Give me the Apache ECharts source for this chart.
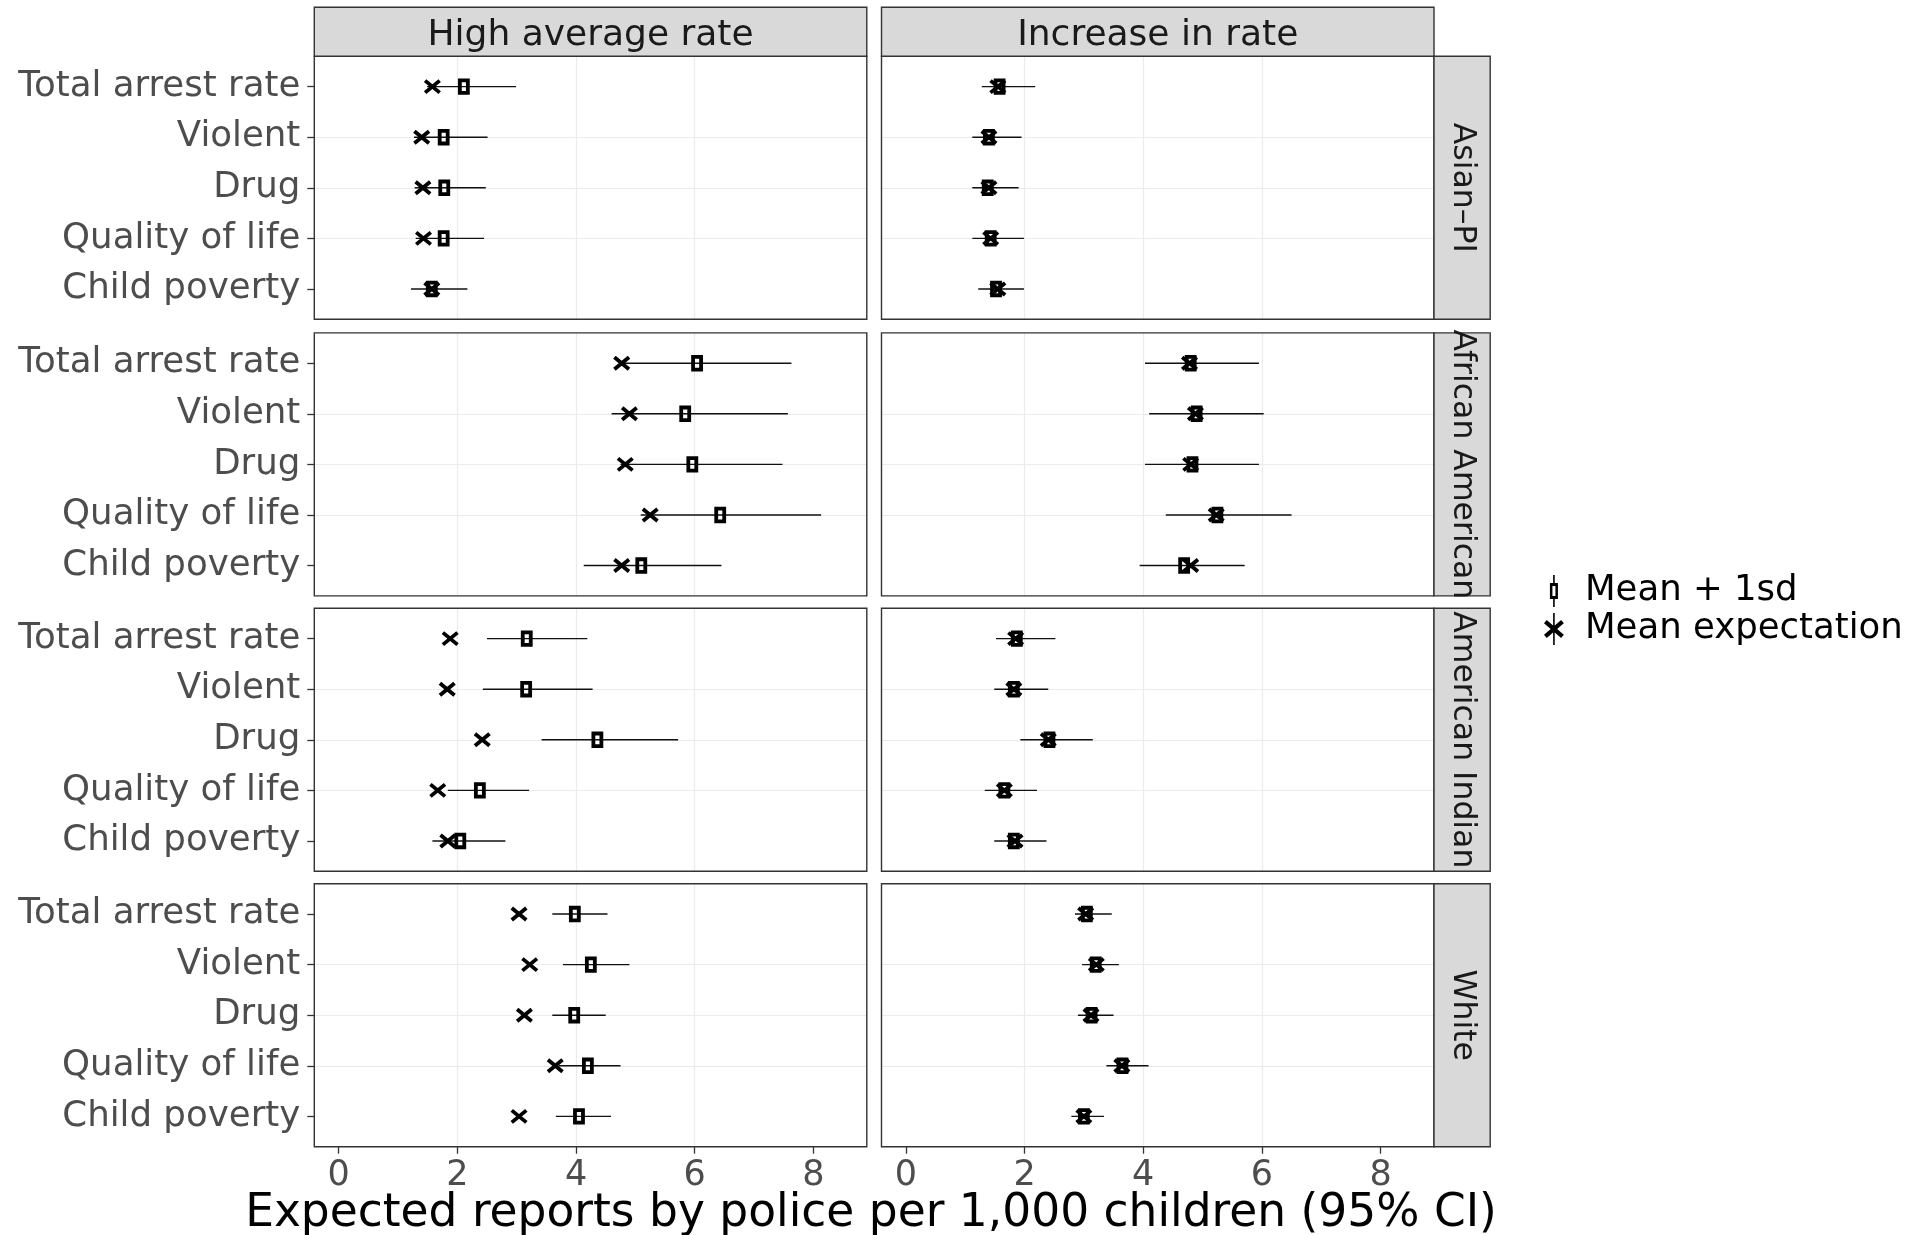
<!DOCTYPE html>
<html>
<head>
<meta charset="utf-8">
<script src="https://cdn.jsdelivr.net/npm/echarts@6/dist/echarts.min.js"></script>
<style>
html,body{margin:0;padding:0;background:#fff;}
#chart{width:1919px;height:1235px;}
</style>
</head>
<body>
<div id="chart"></div>
<script>
// ---------- data ----------
const categories = ['Total arrest rate', 'Violent', 'Drug', 'Quality of life', 'Child poverty'];
const groups = ['Asian–PI', 'African American', 'American Indian', 'White'];
const facets = ['High average rate', 'Increase in rate'];
const xTickValues = [0, 2, 4, 6, 8];
const seriesNames = ['Mean + 1sd', 'Mean expectation'];

// High average rate: one row per group (Asian-PI, African American, American Indian, White)
const highMeanSd = [
  [2.11, 1.77, 1.78, 1.77, 1.57],
  [6.04, 5.84, 5.96, 6.43, 5.10],
  [3.17, 3.16, 4.36, 2.38, 2.05],
  [3.98, 4.25, 3.97, 4.20, 4.05]
];
const highLow = [
  [1.49, 1.27, 1.28, 1.30, 1.22],
  [4.78, 4.60, 4.75, 5.09, 4.13],
  [2.50, 2.43, 3.42, 1.84, 1.58],
  [3.60, 3.78, 3.60, 3.71, 3.66]
];
const highHigh = [
  [2.99, 2.51, 2.48, 2.45, 2.17],
  [7.63, 7.57, 7.48, 8.13, 6.45],
  [4.19, 4.28, 5.72, 3.21, 2.81],
  [4.53, 4.90, 4.50, 4.75, 4.59]
];
const highExpect = [
  [1.58, 1.40, 1.42, 1.43, 1.57],
  [4.77, 4.90, 4.83, 5.25, 4.77],
  [1.88, 1.83, 2.42, 1.67, 1.84],
  [3.04, 3.22, 3.13, 3.65, 3.04]
];

// Increase in rate
const incMeanSd = [
  [1.58, 1.40, 1.38, 1.43, 1.52],
  [4.80, 4.90, 4.83, 5.25, 4.69],
  [1.87, 1.82, 2.42, 1.66, 1.82],
  [3.05, 3.20, 3.13, 3.65, 3.00]
];
const incLow = [
  [1.28, 1.12, 1.12, 1.12, 1.22],
  [4.03, 4.10, 4.03, 4.38, 3.94],
  [1.52, 1.49, 1.93, 1.33, 1.49],
  [2.85, 2.97, 2.90, 3.38, 2.79]
];
const incHigh = [
  [2.18, 1.95, 1.90, 1.99, 1.99],
  [5.95, 6.03, 5.95, 6.50, 5.71],
  [2.52, 2.40, 3.15, 2.21, 2.37],
  [3.47, 3.59, 3.50, 4.09, 3.34]
];
const incExpect = [
  [1.55, 1.40, 1.40, 1.43, 1.55],
  [4.78, 4.88, 4.80, 5.23, 4.80],
  [1.85, 1.82, 2.40, 1.66, 1.84],
  [3.03, 3.21, 3.12, 3.64, 3.00]
];

// ---------- layout ----------
const FONT = 'DejaVu Sans';
const colLeft = [314.3, 881.5];
const colWidth = 552.5;
const rowTop = [56.3, 332.9, 608.3, 883.7];
const rowHeight = 263;
const stripTop = 7.3, stripH = 49;
const stripRightX = colLeft[1] + colWidth, stripW = 56.2;

const facetData = [
  { sd: highMeanSd, lo: highLow, hi: highHigh, ex: highExpect },
  { sd: incMeanSd, lo: incLow, hi: incHigh, ex: incExpect }
];

const grids = [], xAxes = [], yAxes = [], series = [], graphics = [];

let idx = 0;
for (let r = 0; r < groups.length; r++) {
  for (let c = 0; c < facets.length; c++) {
    grids.push({ left: colLeft[c], top: rowTop[r], width: colWidth, height: rowHeight, show: false, containLabel: false });
    const isBottom = r === groups.length - 1;
    const isLeft = c === 0;
    xAxes.push({
      type: 'value', gridIndex: idx, position: 'bottom', min: -0.41, max: 8.9, minInterval: 1, maxInterval: 1,
      axisLine: { show: false, onZero: false },
      axisTick: { show: isBottom, length: 7, customValues: xTickValues, lineStyle: { color: '#333', width: 1.3 } },
      axisLabel: {
        show: isBottom, customValues: xTickValues, margin: 12,
        fontFamily: FONT, fontSize: 35, color: '#4d4d4d',
        formatter: v => String(v)
      },
      splitLine: { show: true, showMinLine: false, showMaxLine: false, lineStyle: { color: '#ebebeb', width: 1.2 } }
    });
    yAxes.push({
      type: 'value', gridIndex: idx, position: 'left', min: -0.6, max: 4.6, inverse: true, minInterval: 1, maxInterval: 1,
      axisLine: { show: false, onZero: false },
      axisTick: { show: isLeft, length: 7, customValues: [0, 1, 2, 3, 4], lineStyle: { color: '#333', width: 1.3 } },
      axisLabel: {
        show: isLeft, customValues: [0, 1, 2, 3, 4], margin: 14,
        fontFamily: FONT, fontSize: 35.6, color: '#4d4d4d', padding: [9, 0, 0, 0],
        formatter: v => categories[Math.round(v)] || ''
      },
      splitLine: { show: true, showMinLine: false, showMaxLine: false, lineStyle: { color: '#ebebeb', width: 1.2 } }
    });

    const fd = facetData[c];
    const barData = categories.map((_, i) => [i, fd.lo[r][i], fd.hi[r][i]]);
    const sdData = categories.map((_, i) => [fd.sd[r][i], i]);
    const exData = categories.map((_, i) => [fd.ex[r][i], i]);

    series.push({
      type: 'custom', name: seriesNames[0], xAxisIndex: idx, yAxisIndex: idx,
      itemStyle: { color: '#000' }, silent: true, z: 3,
      encode: { x: [1, 2], y: 0 },
      data: barData,
      renderItem: (params, api) => {
        const p1 = api.coord([api.value(1), api.value(0)]);
        const p2 = api.coord([api.value(2), api.value(0)]);
        return { type: 'line', shape: { x1: p1[0], y1: p1[1], x2: p2[0], y2: p2[1] },
          style: { stroke: '#111', lineWidth: 1.4 } };
      }
    });
    series.push({
      type: 'custom', name: seriesNames[0], xAxisIndex: idx, yAxisIndex: idx,
      itemStyle: { color: '#000' }, silent: true, z: 4,
      encode: { x: 0, y: 1 },
      data: sdData,
      renderItem: (params, api) => {
        const p = api.coord([api.value(0), api.value(1)]);
        return { type: 'rect', shape: { x: p[0] - 4, y: p[1] - 6.3, width: 8, height: 12.6 },
          style: { fill: 'none', stroke: '#000', lineWidth: 3.8 } };
      }
    });
    series.push({
      type: 'custom', name: seriesNames[1], xAxisIndex: idx, yAxisIndex: idx,
      itemStyle: { color: '#000' }, silent: true, z: 5,
      encode: { x: 0, y: 1 },
      data: exData,
      renderItem: (params, api) => {
        const p = api.coord([api.value(0), api.value(1)]);
        const dx = 7.3, dy = 6;
        return { type: 'group', children: [
          { type: 'line', shape: { x1: p[0] - dx, y1: p[1] - dy, x2: p[0] + dx, y2: p[1] + dy }, style: { stroke: '#000', lineWidth: 3.8 } },
          { type: 'line', shape: { x1: p[0] - dx, y1: p[1] + dy, x2: p[0] + dx, y2: p[1] - dy }, style: { stroke: '#000', lineWidth: 3.8 } }
        ] };
      }
    });

    // panel border
    graphics.push({ type: 'rect', z: 100, silent: true,
      shape: { x: colLeft[c], y: rowTop[r], width: colWidth, height: rowHeight },
      style: { fill: 'none', stroke: '#333', lineWidth: 1.4 } });
    idx++;
  }
}

// top strips
facets.forEach((f, c) => {
  graphics.push({ type: 'rect', z: 100, silent: true,
    shape: { x: colLeft[c], y: stripTop, width: colWidth, height: stripH },
    style: { fill: '#d9d9d9', stroke: '#333', lineWidth: 1.4 } });
  graphics.push({ type: 'text', z: 101, silent: true,
    x: colLeft[c] + colWidth / 2, y: stripTop + stripH / 2 + 3.5,
    style: { text: f, fontFamily: FONT, fontSize: 36, fill: '#1a1a1a', align: 'center', verticalAlign: 'middle' } });
});
// right strips
groups.forEach((g, r) => {
  graphics.push({ type: 'rect', z: 100, silent: true,
    shape: { x: stripRightX, y: rowTop[r], width: stripW, height: rowHeight },
    style: { fill: '#d9d9d9', stroke: '#333', lineWidth: 1.4 } });
  graphics.push({ type: 'text', z: 101, silent: true,
    x: stripRightX + stripW / 2, y: rowTop[r] + rowHeight / 2, rotation: -Math.PI / 2,
    style: { text: g, fontFamily: FONT, fontSize: 31.5, fill: '#1a1a1a', align: 'center', verticalAlign: 'middle' } });
});
// axis title
graphics.push({ type: 'text', z: 101, silent: true, x: 871, y: 1214,
  style: { text: 'Expected reports by police per 1,000 children (95% CI)', fontFamily: FONT, fontSize: 45.5, fill: '#000', align: 'center', verticalAlign: 'middle' } });

const iconSd = 'path://M4,8 L12,8 L12,24 L4,24 Z M6.5,11 L6.5,21 L9.5,21 L9.5,11 Z M7.2,0 L8.8,0 L8.8,8 L7.2,8 Z M7.2,24 L8.8,24 L8.8,32 L7.2,32 Z';
const iconEx = 'path://M0.32,8.86 L15.32,21.86 L17.68,19.14 L2.68,6.14 Z M2.68,21.86 L17.68,8.86 L15.32,6.14 L0.32,19.14 Z M8.3,0 L8.3,28 L9.7,28 L9.7,0 Z';

const chart = echarts.init(document.getElementById('chart'), null, { renderer: 'canvas' });
chart.setOption({
  animation: false,
  backgroundColor: '#fff',
  grid: grids,
  xAxis: xAxes,
  yAxis: yAxes,
  series: series,
  graphic: { elements: graphics },
  legend: {
    orient: 'vertical', left: 1539, top: 568,
    itemWidth: 52, itemHeight: 32, itemGap: 2,
    selectedMode: false,
    textStyle: { fontFamily: FONT, fontSize: 35.5, color: '#000' },
    data: [ { name: seriesNames[0], icon: iconSd }, { name: seriesNames[1], icon: iconEx } ]
  }
});
</script>
</body>
</html>
